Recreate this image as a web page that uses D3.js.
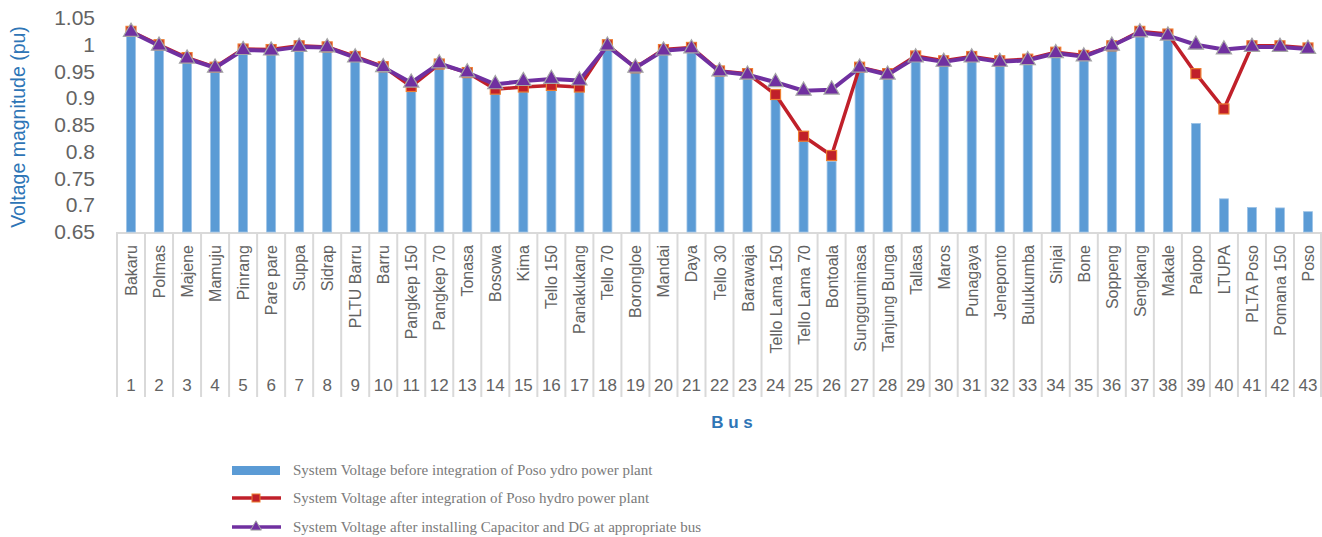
<!DOCTYPE html>
<html><head><meta charset="utf-8">
<script src="https://cdn.jsdelivr.net/npm/d3@7"></script>
<style>body{margin:0;background:#fff}svg{display:block}</style>
</head><body>
<script>
const categories = ["Bakaru","Polmas","Majene","Mamuju","Pinrang","Pare pare","Suppa","Sidrap","PLTU Barru","Barru","Pangkep 150","Pangkep 70","Tonasa","Bosowa","Kima","Tello 150","Panakukang","Tello 70","Borongloe","Mandai","Daya","Tello 30","Barawaja","Tello Lama 150","Tello Lama 70","Bontoala","Sungguminasa","Tanjung Bunga","Tallasa","Maros","Punagaya","Jeneponto","Bulukumba","Sinjai","Bone","Soppeng","Sengkang","Makale","Palopo","LTUPA","PLTA Poso","Pomana 150","Poso"];
const busNumbers = ["1","2","3","4","5","6","7","8","9","10","11","12","13","14","15","16","17","18","19","20","21","22","23","24","25","26","27","28","29","30","31","32","33","34","35","36","37","38","39","40","41","42","43"];
const beforeValues = [1.020,0.995,0.972,0.955,0.987,0.986,0.994,0.992,0.974,0.955,0.915,0.958,0.942,0.910,0.915,0.917,0.915,0.995,0.953,0.987,0.990,0.946,0.941,0.898,0.822,0.782,0.953,0.940,0.972,0.963,0.972,0.963,0.967,0.980,0.974,0.993,1.020,1.013,0.853,0.712,0.696,0.695,0.688];
const afterValues = [1.025,1.000,0.976,0.958,0.992,0.991,0.998,0.996,0.978,0.959,0.922,0.964,0.948,0.917,0.921,0.924,0.921,1.000,0.957,0.991,0.995,0.951,0.946,0.907,0.829,0.793,0.958,0.946,0.979,0.970,0.978,0.970,0.973,0.986,0.980,0.998,1.025,1.020,0.946,0.880,0.998,0.998,0.994];
const capDgValues = [1.024,0.998,0.974,0.957,0.990,0.989,0.996,0.995,0.976,0.958,0.929,0.965,0.948,0.926,0.932,0.936,0.933,0.998,0.957,0.989,0.993,0.950,0.944,0.930,0.914,0.916,0.957,0.944,0.976,0.968,0.976,0.968,0.971,0.984,0.978,0.998,1.023,1.017,1.000,0.991,0.996,0.996,0.992];
const yTicks = [0.65,0.7,0.75,0.8,0.85,0.9,0.95,1,1.05];
const legendLabels = ["System Voltage before integration of Poso ydro power plant","System Voltage after integration of Poso hydro power plant","System Voltage after installing Capacitor and DG at appropriate bus"];

const W=1322,H=537;
const svg=d3.select("body").append("svg").attr("width",W).attr("height",H);
const pLeft=117,pRight=1322,pTop=18,pBottom=232;
const x=d3.scaleBand().domain(categories).range([pLeft,pRight]).padding(0);
const y=d3.scaleLinear().domain([0.65,1.05]).range([pBottom,pTop]);
const cx=c=>x(c)+x.bandwidth()/2;

// Y axis labels
const yAx=d3.axisLeft(y).tickValues(yTicks).tickSize(0).tickPadding(0).tickFormat(d=>d3.format("")(d));
const yg=svg.append("g").attr("transform","translate(95,0)").call(yAx);
yg.select(".domain").remove();
yg.selectAll("text").attr("font-family","Liberation Sans, Arial, sans-serif").attr("font-size",21).attr("fill","#636363");

svg.append("text").attr("transform","translate(25,127) rotate(-90)").attr("text-anchor","middle")
  .attr("font-family","Liberation Sans, Arial, sans-serif").attr("font-size",19.5).attr("fill","#2E75B6")
  .text("Voltage magnitude (pu)");

// category axis
svg.append("line").attr("x1",pLeft).attr("x2",pRight).attr("y1",pBottom+1).attr("y2",pBottom+1).attr("stroke","#d9d9d9").attr("stroke-width",2);
const seps=categories.map(c=>x(c)).concat([pRight-1]);
svg.selectAll("line.sep").data(seps).enter().append("line").attr("class","sep")
  .attr("x1",d=>d).attr("x2",d=>d).attr("y1",pBottom).attr("y2",397).attr("stroke","#d9d9d9").attr("stroke-width",2);
svg.selectAll("text.cat").data(categories).enter().append("text").attr("class","cat")
  .attr("transform",d=>`translate(${cx(d)+6},245) rotate(-90)`).attr("text-anchor","end")
  .attr("font-family","Liberation Sans, Arial, sans-serif").attr("font-size",16).attr("fill","#636363").text(d=>d);
svg.selectAll("text.num").data(categories).enter().append("text").attr("class","num")
  .attr("x",d=>cx(d)).attr("y",391).attr("text-anchor","middle")
  .attr("font-family","Liberation Sans, Arial, sans-serif").attr("font-size",17).attr("fill","#636363")
  .text((d,i)=>busNumbers[i]);

svg.append("text").attr("x",732).attr("y",428).attr("text-anchor","middle")
  .attr("font-family","Liberation Sans, Arial, sans-serif").attr("font-size",17).attr("font-weight","bold").attr("fill","#2E75B6")
  .text("B u s");

// bars
const bw=9;
svg.selectAll("rect.bar").data(categories).enter().append("rect").attr("class","bar")
  .attr("x",d=>cx(d)-bw/2).attr("width",bw)
  .attr("y",(d,i)=>y(beforeValues[i])).attr("height",(d,i)=>pBottom-y(beforeValues[i]))
  .attr("fill","#5B9BD5").attr("stroke","#9DC3E6").attr("stroke-width",0.8);

// lines
const line=d3.line().x(d=>cx(d[0])).y(d=>y(d[1]));
const redData=categories.map((c,i)=>[c,afterValues[i]]);
const purData=categories.map((c,i)=>[c,capDgValues[i]]);
svg.append("path").datum(redData).attr("d",line).attr("fill","none").attr("stroke","#C0202A").attr("stroke-width",3.5).attr("stroke-linejoin","round");
svg.selectAll("rect.sq").data(redData).enter().append("rect").attr("class","sq")
  .attr("x",d=>cx(d[0])-5).attr("y",d=>y(d[1])-5).attr("width",10).attr("height",10)
  .attr("fill","#C0202A").attr("stroke","#ED7D31").attr("stroke-width",1.2);
svg.append("path").datum(purData).attr("d",line).attr("fill","none").attr("stroke","#7030A0").attr("stroke-width",4).attr("stroke-linejoin","round");
const tri=d3.symbol().type(d3.symbolTriangle).size(100);
svg.selectAll("path.tri").data(purData).enter().append("path").attr("class","tri")
  .attr("transform",d=>`translate(${cx(d[0])},${y(d[1])})`).attr("d",tri)
  .attr("fill","#7030A0").attr("stroke","#A5A5A5").attr("stroke-width",1.2);

// legend
const lg=svg.append("g");
const ly=[470,498,527];
lg.append("rect").attr("x",232).attr("y",466).attr("width",48).attr("height",9).attr("fill","#5B9BD5");
lg.append("line").attr("x1",232).attr("x2",281).attr("y1",ly[1]).attr("y2",ly[1]).attr("stroke","#C0202A").attr("stroke-width",3.5);
lg.append("rect").attr("x",252).attr("y",ly[1]-4).attr("width",8).attr("height",8).attr("fill","#C0202A").attr("stroke","#ED7D31").attr("stroke-width",1);
lg.append("line").attr("x1",232).attr("x2",281).attr("y1",ly[2]).attr("y2",ly[2]).attr("stroke","#7030A0").attr("stroke-width",3.5);
lg.append("path").attr("transform",`translate(256,${ly[2]})`).attr("d",d3.symbol().type(d3.symbolTriangle).size(50)).attr("fill","#7030A0").attr("stroke","#A5A5A5").attr("stroke-width",1);
lg.selectAll("text").data(legendLabels).enter().append("text")
  .attr("x",293).attr("y",(d,i)=>ly[i]+5)
  .attr("font-family","Liberation Serif, Times New Roman, serif").attr("font-size",15).attr("fill","#7a7a7a").text(d=>d);
</script>
</body></html>
